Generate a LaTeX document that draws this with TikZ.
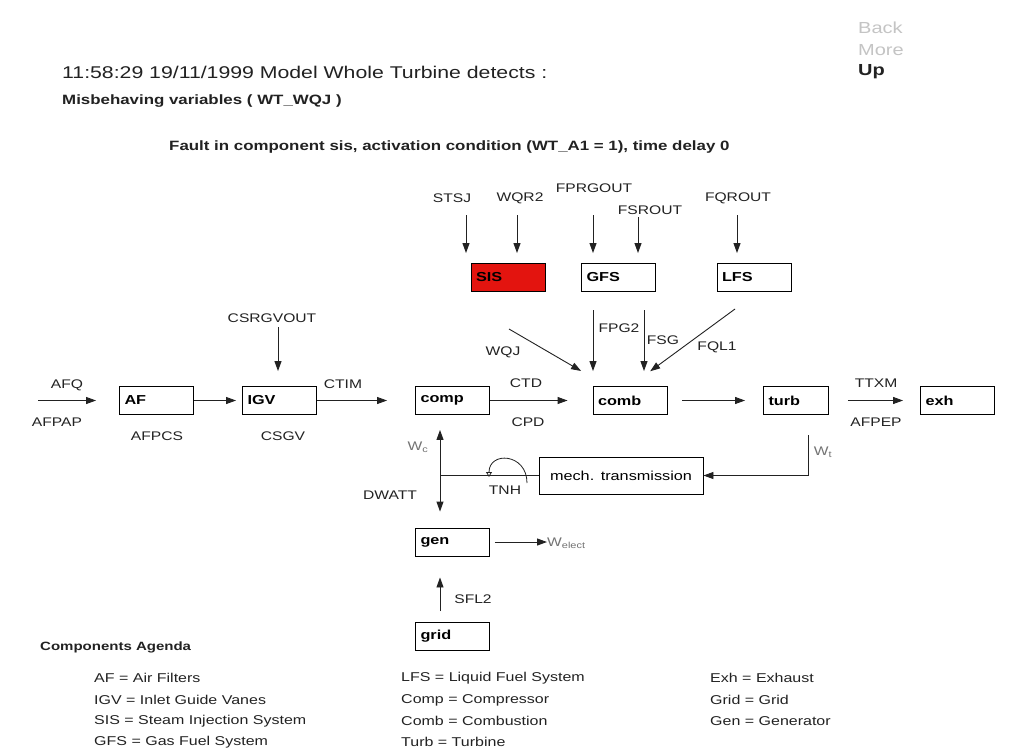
\documentclass[tikz,border=0pt]{standalone}
\usepackage{fontspec}
\setmainfont{Liberation Sans}[FakeStretch=1.25]
\usepackage{tikz}
\usetikzlibrary{arrows.meta,positioning}
\definecolor{sisred}{HTML}{E3140F}
\definecolor{navgrey}{HTML}{C4C4C4}
\definecolor{inkgrey}{HTML}{222222}
\tikzstyle{arrow} = [-{Triangle[length=10pt,width=7pt]}, line width=0.9pt, inkgrey]

\begin{document}
\begin{tikzpicture}[x=1pt, y=-1pt,
  box/.style={rectangle, draw, line width=0.9pt, font=\fontsize{13}{15}\selectfont\bfseries, text width=64pt, inner xsep=5pt, inner ysep=0pt, minimum height=28pt, align=left},
  lbl/.style={font=\fontsize{12.5}{14}\selectfont, text=inkgrey, inner sep=0pt},
  head/.style={font=\fontsize{17}{19}\selectfont, text=inkgrey, inner sep=0pt, anchor=west},
  note/.style={font=\fontsize{13.5}{15}\selectfont\bfseries, text=inkgrey, inner sep=0pt, anchor=west},
  agenda/.style={font=\fontsize{12.8}{14}\selectfont, text=inkgrey, inner sep=0pt, anchor=west}]

\useasboundingbox[fill=white] (0,0) rectangle (1011,753);

% header
\node[head] (title) at (62,72) {11:58:29 19/11/1999 Model Whole Turbine detects :};
\node[head, text=navgrey, font=\fontsize{16}{18}\selectfont] (back) at (858,28) {Back};
\node[head, text=navgrey, font=\fontsize{16}{18}\selectfont] (more) at (858,50) {More};
\node[head, font=\fontsize{16}{18}\selectfont\bfseries] (up) at (858,72) {Up};
\node[note] (misb) at (62,101) {Misbehaving variables ( WT\_WQJ )};
\node[note] (fault) at (169,147) {Fault in component sis, activation condition (WT\_A1 = 1), time delay 0};

% components
\node[box, fill=sisred] (sis) at (508,277.5) {SIS};
\node[box] (gfs) at (618.5,277.5) {GFS};
\node[box] (lfs) at (754,277.5) {LFS};
\node[box] (af) at (156.5,400.5) {AF};
\node[box] (igv) at (279.5,400.5) {IGV};
\node[box] (comp) at (452.5,400.5) {comp};
\node[box] (comb) at (630,400.5) {comb};
\node[box, text width=55pt] (turb) at (796,400.5) {turb};
\node[box] (exh) at (957.5,400.5) {exh};
\node[box, text width=154pt, minimum height=37pt, align=center, font=\fontsize{13}{15}\selectfont] (mech) at (621,475.5) {mech. transmission};
\node[box] (gen) at (452.5,542) {gen};
\node[box] (grid) at (452.5,636.5) {grid};

% variable names
\node[lbl] (stsj) at (452,198) {STSJ};
\node[lbl] (wqr2) at (520,198) {WQR2};
\node[lbl] (fprgout) at (594,188) {FPRGOUT};
\node[lbl] (fsrout) at (650,210) {FSROUT};
\node[lbl] (fqrout) at (738,198) {FQROUT};
\node[lbl] (csrgvout) at (272,318) {CSRGVOUT};
\node[lbl] (fpg2) at (619,328) {FPG2};
\node[lbl] (fsg) at (663,340) {FSG};
\node[lbl] (fql1) at (717,347) {FQL1};
\node[lbl] (wqj) at (503,352) {WQJ};
\node[lbl] (afq) at (67,385) {AFQ};
\node[lbl] (afpap) at (57,422) {AFPAP};
\node[lbl] (afpcs) at (157,436) {AFPCS};
\node[lbl] (csgv) at (283,436) {CSGV};
\node[lbl] (ctim) at (343,384) {CTIM};
\node[lbl] (ctd) at (526,383) {CTD};
\node[lbl] (cpd) at (528,422) {CPD};
\node[lbl] (ttxm) at (876,383) {TTXM};
\node[lbl] (afpep) at (876,422) {AFPEP};
\node[lbl, text=black!55] (wc) at (418,447) {W\textsubscript{c}};
\node[lbl, text=black!55] (wt) at (823,452) {W\textsubscript{t}};
\node[lbl] (dwatt) at (390,495) {DWATT};
\node[lbl] (tnh) at (505,490) {TNH};
\node[lbl, text=black!55, anchor=west] (welect) at (547,543) {W\textsubscript{elect}};
\node[lbl] (sfl2) at (473,599) {SFL2};

% free ends
\coordinate (stsj-in) at (466,215);
\coordinate (wqr2-in) at (517,215);
\coordinate (fprgout-in) at (593,215);
\coordinate (fsrout-in) at (638,217);
\coordinate (fqrout-in) at (737,215);
\coordinate (csrgvout-in) at (278,327);
\coordinate (fpg2-in) at (593,310);
\coordinate (fsg-in) at (644,310);
\coordinate (fql1-in) at (735,309);
\coordinate (wqj-in) at (509,329);
\coordinate (afq-in) at (38,400.5);
\coordinate (wt-in) at (808,435);
\coordinate (shaft) at (440,475.5);
\coordinate (tnh-a) at (527,483);
\coordinate (tnh-b) at (489,477);

% inputs
\draw[arrow, shorten >=10pt] (stsj-in) -- (stsj-in |- sis.north);
\draw[arrow, shorten >=10pt] (wqr2-in) -- (wqr2-in |- sis.north);
\draw[arrow, shorten >=10pt] (fprgout-in) -- (fprgout-in |- gfs.north);
\draw[arrow, shorten >=10pt] (fsrout-in) -- (fsrout-in |- gfs.north);
\draw[arrow, shorten >=10pt] (fqrout-in) -- (fqrout-in |- lfs.north);
\draw[arrow, shorten >=15pt] (csrgvout-in) -- (csrgvout-in |- igv.north);
\draw[arrow, shorten >=15pt] (fpg2-in) -- (fpg2-in |- comb.north);
\draw[arrow, shorten >=15pt] (fsg-in) -- (fsg-in |- comb.north);
\draw[arrow, shorten >=25pt] (fql1-in) -- (comb.north);
\draw[arrow, shorten >=30pt] (wqj-in) -- ([xshift=-23pt]comb.north);

% main flow
\draw[arrow, shorten >=23pt] (afq-in) -- (af.west);
\draw[arrow, shorten >=6pt] (af) -- (igv);
\draw[arrow, shorten >=28pt] (igv) -- (comp);
\draw[arrow, shorten >=25pt] (comp) -- (comb);
\draw[arrow, shorten <=15pt, shorten >=18pt] (comb) -- (turb);
\draw[arrow, shorten <=19pt, shorten >=17pt] (turb) -- (exh);

% shaft and generator
\draw[arrow] (wt-in) |- (mech.east);
\draw[line width=0.9pt, inkgrey] (shaft) -- (mech.west);
\draw[arrow, shorten >=15pt] (shaft) -- (shaft |- comp.south);
\draw[arrow, shorten >=16pt] (shaft) -- (shaft |- gen.north);
\draw[line width=0.8pt, inkgrey, -{Triangle[open,length=5pt,width=6pt]}] (tnh-a) .. controls +(0,-30) and +(0,-26) .. (tnh-b);
\draw[arrow, shorten <=5pt] (gen.east) -- (gen.east -| welect.west);
\draw[arrow, shorten <=11pt, shorten >=21pt] (shaft |- grid.north) -- (shaft |- gen.south);

% agenda
\node[note, font=\fontsize{12}{14}\selectfont\bfseries] (agenda) at (40,647) {Components Agenda};
\node[agenda] (leg-af) at (94,678) {AF = Air Filters};
\node[agenda] (leg-igv) at (94,700) {IGV = Inlet Guide Vanes};
\node[agenda] (leg-sis) at (94,721) {SIS = Steam Injection System};
\node[agenda] (leg-gfs) at (94,742) {GFS = Gas Fuel System};
\node[agenda] (leg-lfs) at (401,678) {LFS = Liquid Fuel System};
\node[agenda] (leg-comp) at (401,700) {Comp = Compressor};
\node[agenda] (leg-comb) at (401,721) {Comb = Combustion};
\node[agenda] (leg-turb) at (401,742) {Turb = Turbine};
\node[agenda] (leg-exh) at (710,678) {Exh = Exhaust};
\node[agenda] (leg-grid) at (710,700) {Grid = Grid};
\node[agenda] (leg-gen) at (710,721) {Gen = Generator};
\end{tikzpicture}
\end{document}
